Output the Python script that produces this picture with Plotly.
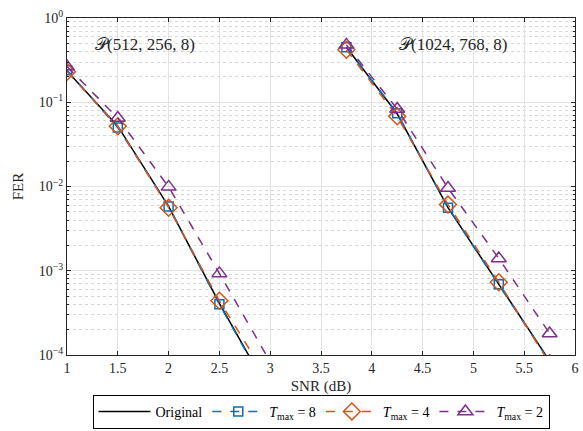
import plotly.graph_objects as go

snr = [1, 1.5, 2, 2.5, 3, None, 3.75, 4.25, 4.75, 5.25, 5.75]
fer_original = [0.235, 0.052, 0.0058, 4.1e-4, 3.5e-5, None, 0.45, 0.073, 0.0056, 6.9e-4, 8.5e-5]
fer_t8 = [0.24, 0.050, 0.0058, 4.0e-4, 3.4e-5, None, 0.45, 0.074, 0.0056, 6.9e-4, 8.3e-5]
fer_t4 = [0.23, 0.052, 0.0056, 4.4e-4, 4.7e-5, None, 0.42, 0.068, 0.0061, 7.3e-4, 8.0e-5]
fer_t2 = [0.265, 0.065, 0.0099, 9.3e-4, 8.3e-5, None, 0.48, 0.083, 0.0096, 0.0014, 1.8e-4]

names = ["Original", "<i>T</i><sub>max</sub> = 8", "<i>T</i><sub>max</sub> = 4", "<i>T</i><sub>max</sub> = 2"]
code_labels = ["𝒫(512, 256, 8)", "𝒫(1024, 768, 8)"]
code_label_x = [1.77, 4.80]
code_label_y = [-0.32, -0.32]
x_ticks = [1, 1.5, 2, 2.5, 3, 3.5, 4, 4.5, 5, 5.5, 6]
y_ticks = [1, 0.1, 0.01, 0.001, 0.0001]
y_ticktext = ["10<sup>0</sup>", "10<sup>−1</sup>", "10<sup>−2</sup>", "10<sup>−3</sup>", "10<sup>−4</sup>"]

FONT = "Liberation Serif"
AX = "#262626"

fig = go.Figure()
fig.add_trace(go.Scatter(x=snr, y=fer_original, name=names[0], mode="lines",
                         line=dict(color="black", width=1.5)))
fig.add_trace(go.Scatter(x=snr, y=fer_t8, name=names[1], mode="lines+markers",
                         line=dict(color="#0072BD", width=1.5, dash="dash"),
                         marker=dict(symbol="square-open", size=9, line=dict(width=1.5, color="#0072BD"))))
fig.add_trace(go.Scatter(x=snr, y=fer_t4, name=names[2], mode="lines+markers",
                         line=dict(color="#D95319", width=1.5, dash="dash"),
                         marker=dict(symbol="diamond-open", size=13, line=dict(width=1.5, color="#D95319"))))
fig.add_trace(go.Scatter(x=snr, y=fer_t2, name=names[3], mode="lines+markers",
                         line=dict(color="#7E2F8E", width=1.5, dash="dash"),
                         marker=dict(symbol="triangle-up-open", size=13, line=dict(width=1.5, color="#7E2F8E"))))

for t, ax_, ay_ in zip(code_labels, code_label_x, code_label_y):
    fig.add_annotation(x=ax_, y=ay_, xref="x", yref="y", text=t, showarrow=False,
                       font=dict(family=FONT, size=17, color=AX))

fig.update_xaxes(range=[1, 6], tickvals=x_ticks, ticks="inside", ticklen=4, tickcolor=AX,
                 showline=True, linecolor=AX, linewidth=1, mirror="allticks", automargin=False,
                 showgrid=True, gridcolor="#e3e3e3", gridwidth=1, zeroline=False,
                 title=dict(text="SNR (dB)", font=dict(family=FONT, size=15, color=AX), standoff=8),
                 tickfont=dict(family=FONT, size=14, color=AX))
fig.update_yaxes(type="log", range=[-4, 0], tickvals=y_ticks, ticktext=y_ticktext,
                 ticks="inside", ticklen=4, tickcolor=AX, automargin=False,
                 showline=True, linecolor=AX, linewidth=1, mirror="allticks",
                 showgrid=True, gridcolor="#e3e3e3", gridwidth=1, zeroline=False,
                 minor=dict(dtick="D1", ticks="inside", ticklen=2, tickcolor=AX,
                            showgrid=True, gridcolor="#d8d8d8", griddash="dot", gridwidth=1),
                 title=dict(text="FER", font=dict(family=FONT, size=15, color=AX), standoff=11),
                 tickfont=dict(family=FONT, size=14, color=AX))

fig.update_layout(
    width=583, height=431,
    margin=dict(l=67, r=8, t=18, b=76, autoexpand=False),
    plot_bgcolor="white", paper_bgcolor="white",
    font=dict(family=FONT, size=14, color=AX),
    legend=dict(orientation="h", x=0.5, xanchor="center", xref="paper",
                y=0.005, yanchor="bottom", yref="container",
                bordercolor="black", borderwidth=1, bgcolor="white",
                font=dict(family=FONT, size=14, color="black"),
                itemwidth=52, tracegroupgap=0),
)

fig.write_html("out.html")
